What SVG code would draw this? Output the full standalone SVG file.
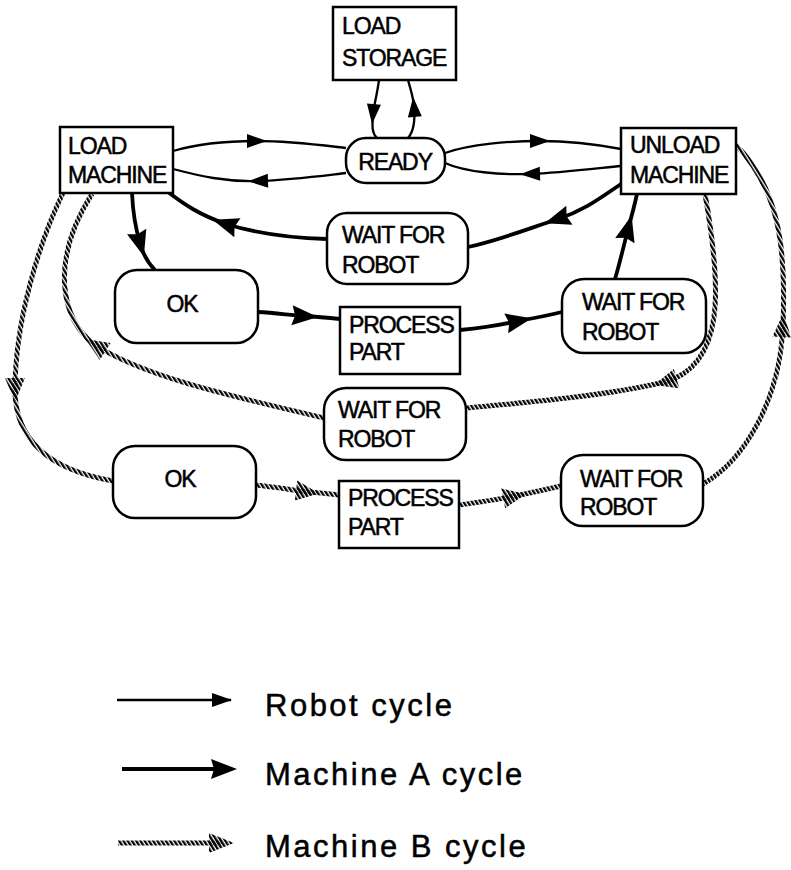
<svg xmlns="http://www.w3.org/2000/svg" width="791" height="870" viewBox="0 0 791 870">
  <style>
    .box { fill: #fff; stroke: #000; stroke-width: 2.5; }
    .lbl { font-family: "Liberation Sans", Arial, sans-serif; font-size: 23px; letter-spacing: -1.1px; fill: #000; stroke: #000; stroke-width: 0.5; }
    .leg { font-family: "Liberation Sans", Arial, sans-serif; font-size: 31px; letter-spacing: 2.5px; fill: #000; stroke: #000; stroke-width: 0.5; }
    .robot { fill: none; stroke: #000; stroke-width: 2.3; marker-mid: url(#arRobot); }
    .macA { fill: none; stroke: #000; stroke-width: 3.8; marker-mid: url(#arA); }
    .macB { fill: none; stroke: url(#rope); stroke-width: 5; }
    .headB { fill: url(#rope); }
  </style>
  <defs>
    <!-- diagonal hatching used for the machine B rope line and its heads -->
    <pattern id="rope" patternUnits="userSpaceOnUse" width="3.6" height="20" patternTransform="rotate(-32)">
      <rect x="0" y="0" width="2.3" height="20" fill="#000"/>
    </pattern>
    <marker id="arRobot" markerUnits="userSpaceOnUse" viewBox="-14 -10 28 20" markerWidth="28" markerHeight="20" refX="0" refY="0" orient="auto">
      <path d="M-10,-7 L10,0 L-10,7 Z" fill="#000"/>
    </marker>
    <marker id="arA" markerUnits="userSpaceOnUse" viewBox="-16 -14 32 28" markerWidth="32" markerHeight="28" refX="0" refY="0" orient="auto">
      <path d="M-12,-10 L14,0 L-12,10 L-9,0 Z" fill="#000"/>
    </marker>
  </defs>
  <rect width="791" height="870" fill="#fff"/>

  <!-- connectors -->
  <g id="connectors">
    <!-- robot cycle -->
    <path class="robot" d="M173,151 C200,143 230,141 257,141 C290,141 320,145 346,148"/>
    <path class="robot" d="M346,173 C320,176 290,180 258,181 C225,182 200,176 173,169"/>
    <path class="robot" d="M445,153 C470,144 510,141 540,141 C570,141 600,145 621,149"/>
    <path class="robot" d="M621,166 C600,168 560,173 530,174 C500,175 465,172 445,163"/>
    <path class="robot" d="M379,80 C377,95 374,105 373,114 C372,128 372,133 377,138"/>
    <path class="robot" d="M408,138 C415,130 415,118 414,107 C413,95 410,88 408,80"/>
    <!-- machine A cycle -->
    <path class="macA" d="M621,184 C600,198 585,210 558,219 C530,228 500,240 468,247"/>
    <path class="macA" d="M327,239 C290,238 255,233 226,224 C200,215 185,205 168,192"/>
    <path class="macA" d="M132,193 C133,215 136,230 140,243 C144,258 150,265 155,270"/>
    <path class="macA" d="M258,312 C275,313 290,315 304,316 C320,317 330,318 340,319"/>
    <path class="macA" d="M460,330 C480,328 500,325 518,321 C535,318 550,315 562,312"/>
    <path class="macA" d="M615,279 C620,262 624,245 628,229 C632,215 635,203 637,194"/>
    <!-- machine B cycle -->
    <path class="macB" d="M63,193 C40,240 15,320 15,390 C15,440 50,470 113,481"/>
    <path class="macB" d="M256,485 C275,487 292,490 308,492 C322,493 330,494 339,495"/>
    <path class="macB" d="M459,505 C480,502 500,499 515,496 C535,492 548,489 561,486"/>
    <path class="macB" d="M703,484 C745,460 780,400 783,325 C786,250 780,190 736,145"/>
    <path class="macB" d="M705,194 C722,290 725,365 665,382 C600,397 520,403 466,408"/>
    <path class="macB" d="M324,418 C250,400 150,380 95,345 C60,320 50,260 92,194"/>
    <!-- machine B arrow heads -->
    <polygon class="headB" points="15,402 5,378 25,378"/>
    <polygon class="headB" points="319,493.5 294.9,500.4 297.3,480.6"/>
    <polygon class="headB" points="526,494 505.2,508.2 501.2,488.6"/>
    <polygon class="headB" points="783.4,313 791,337.4 772.5,336.6"/>
    <polygon class="headB" points="654,385 673.8,369.1 679.3,388.3"/>
    <polygon class="headB" points="85.5,339 110.5,343 99.8,360"/>
  </g>

  <!-- states -->
  <g id="load-storage">
    <rect class="box" x="333" y="7" width="123" height="73"/>
    <text class="lbl" x="342" y="34">LOAD</text>
    <text class="lbl" x="342" y="66">STORAGE</text>
  </g>
  <g id="load-machine">
    <rect class="box" x="60" y="127" width="113" height="66"/>
    <text class="lbl" x="68" y="154">LOAD</text>
    <text class="lbl" x="68" y="183">MACHINE</text>
  </g>
  <g id="ready">
    <rect class="box" x="346" y="138" width="99" height="45" rx="20"/>
    <text class="lbl" x="395" y="170" text-anchor="middle">READY</text>
  </g>
  <g id="unload-machine">
    <rect class="box" x="621" y="128" width="115" height="66"/>
    <text class="lbl" x="630" y="153">UNLOAD</text>
    <text class="lbl" x="630" y="183">MACHINE</text>
  </g>
  <g id="wait-robot-top">
    <rect class="box" x="327" y="213" width="141" height="71" rx="20"/>
    <text class="lbl" x="342" y="243">WAIT FOR</text>
    <text class="lbl" x="342" y="273">ROBOT</text>
  </g>
  <g id="ok-a">
    <rect class="box" x="115" y="270" width="143" height="73" rx="22"/>
    <text class="lbl" x="182" y="312" text-anchor="middle">OK</text>
  </g>
  <g id="process-part-a">
    <rect class="box" x="340" y="307" width="120" height="67"/>
    <text class="lbl" x="349" y="333">PROCESS</text>
    <text class="lbl" x="349" y="360">PART</text>
  </g>
  <g id="wait-robot-a">
    <rect class="box" x="562" y="279" width="144" height="74" rx="22"/>
    <text class="lbl" x="582" y="310">WAIT FOR</text>
    <text class="lbl" x="582" y="340">ROBOT</text>
  </g>
  <g id="wait-robot-mid">
    <rect class="box" x="324" y="388" width="142" height="72" rx="22"/>
    <text class="lbl" x="338" y="418">WAIT FOR</text>
    <text class="lbl" x="338" y="447">ROBOT</text>
  </g>
  <g id="ok-b">
    <rect class="box" x="113" y="446" width="143" height="72" rx="22"/>
    <text class="lbl" x="180" y="487" text-anchor="middle">OK</text>
  </g>
  <g id="process-part-b">
    <rect class="box" x="339" y="481" width="120" height="67"/>
    <text class="lbl" x="348" y="506">PROCESS</text>
    <text class="lbl" x="348" y="535">PART</text>
  </g>
  <g id="wait-robot-b">
    <rect class="box" x="561" y="455" width="142" height="71" rx="22"/>
    <text class="lbl" x="580" y="487">WAIT FOR</text>
    <text class="lbl" x="580" y="515">ROBOT</text>
  </g>

  <!-- legend -->
  <g id="legend">
    <path class="robot" d="M117,700 L222,700 L231,700"/>
    <text class="leg" x="265" y="716">Robot cycle</text>
    <path class="macA" d="M122,769 L223,769 L230,769"/>
    <text class="leg" x="265" y="785">Machine A cycle</text>
    <path class="macB" d="M118,843 L222,843"/>
    <polygon class="headB" points="234,843 209,833 209,853"/>
    <text class="leg" x="265" y="857">Machine B cycle</text>
  </g>
</svg>
